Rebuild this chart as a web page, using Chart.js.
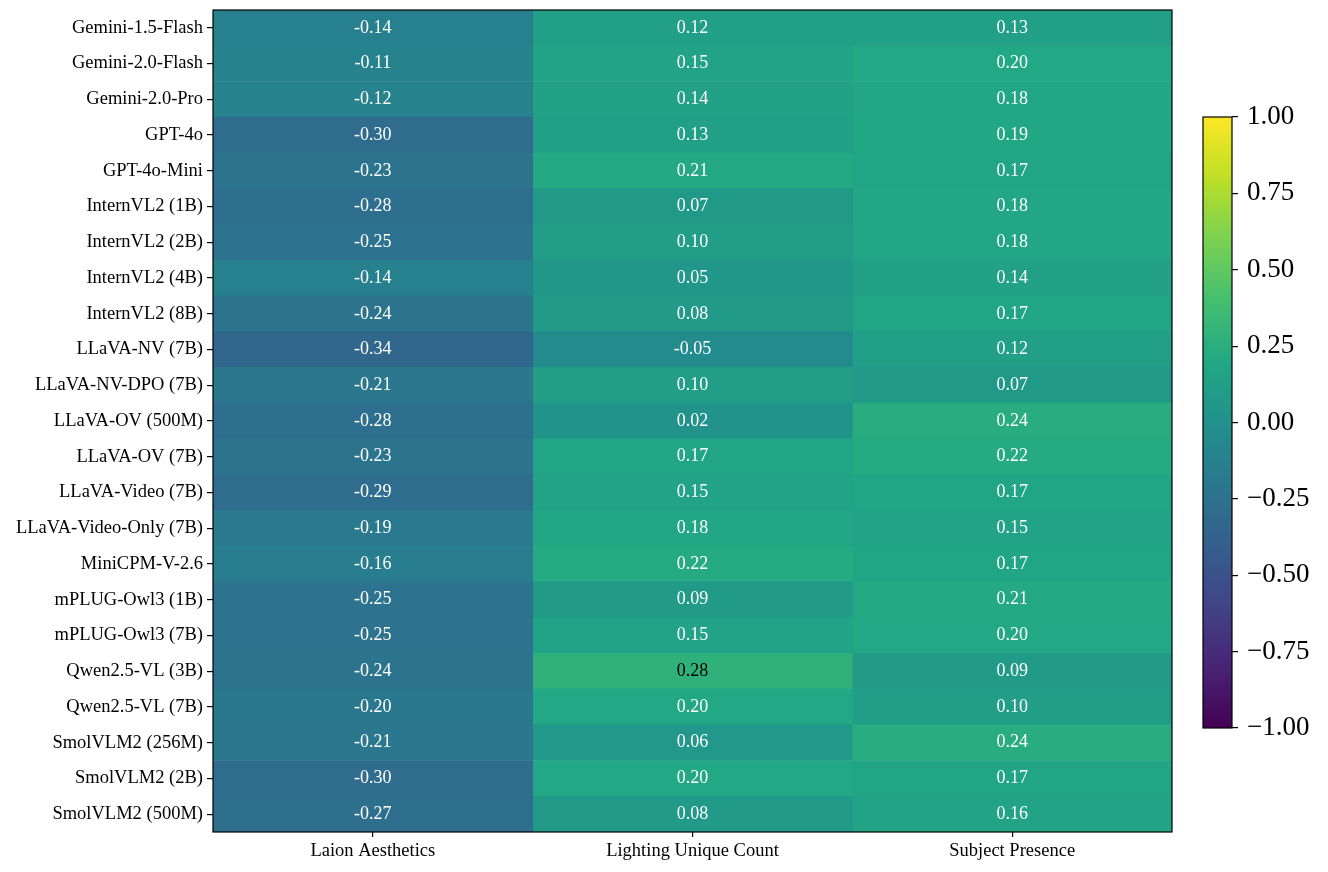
<!DOCTYPE html>
<html>
<head>
<meta charset="utf-8">
<script src="https://cdn.jsdelivr.net/npm/chart.js@4.4.0/dist/chart.umd.min.js"></script>
<style>
  body { margin: 0; background: #fff; width: 1328px; height: 872px; position: relative; overflow: hidden; }
  #heat { position: absolute; left: 0; top: 0; }
  #cbar { position: absolute; left: 1190px; top: 0; }
</style>
</head>
<body>
<canvas id="heat" width="1180" height="872"></canvas>
<canvas id="cbar" width="138" height="872"></canvas>
<script>
// rows / columns of the heatmap
const models = [
  'Gemini-1.5-Flash', 'Gemini-2.0-Flash', 'Gemini-2.0-Pro', 'GPT-4o', 'GPT-4o-Mini',
  'InternVL2 (1B)', 'InternVL2 (2B)', 'InternVL2 (4B)', 'InternVL2 (8B)',
  'LLaVA-NV (7B)', 'LLaVA-NV-DPO (7B)', 'LLaVA-OV (500M)', 'LLaVA-OV (7B)',
  'LLaVA-Video (7B)', 'LLaVA-Video-Only (7B)', 'MiniCPM-V-2.6',
  'mPLUG-Owl3 (1B)', 'mPLUG-Owl3 (7B)', 'Qwen2.5-VL (3B)', 'Qwen2.5-VL (7B)',
  'SmolVLM2 (256M)', 'SmolVLM2 (2B)', 'SmolVLM2 (500M)'
];
const metrics = ['Laion Aesthetics', 'Lighting Unique Count', 'Subject Presence'];

const laionAesthetics = [-0.14, -0.11, -0.12, -0.30, -0.23, -0.28, -0.25, -0.14, -0.24, -0.34, -0.21, -0.28, -0.23, -0.29, -0.19, -0.16, -0.25, -0.25, -0.24, -0.20, -0.21, -0.30, -0.27];
const lightingUniqueCount = [0.12, 0.15, 0.14, 0.13, 0.21, 0.07, 0.10, 0.05, 0.08, -0.05, 0.10, 0.02, 0.17, 0.15, 0.18, 0.22, 0.09, 0.15, 0.28, 0.20, 0.06, 0.20, 0.08];
const subjectPresence = [0.13, 0.20, 0.18, 0.19, 0.17, 0.18, 0.18, 0.14, 0.17, 0.12, 0.07, 0.24, 0.22, 0.17, 0.15, 0.17, 0.21, 0.20, 0.09, 0.10, 0.24, 0.17, 0.16];

const columns = [laionAesthetics, lightingUniqueCount, subjectPresence];
const cbarTicks = [-1, -0.75, -0.5, -0.25, 0, 0.25, 0.5, 0.75, 1];

// viridis colormap
const viridisStops = ['#440154', '#482475', '#414487', '#355f8d', '#2a788e', '#21918c', '#22a884', '#44bf70', '#7ad151', '#bddf26', '#fde725'];
function hexToRgb(h) {
  return [parseInt(h.slice(1, 3), 16), parseInt(h.slice(3, 5), 16), parseInt(h.slice(5, 7), 16)];
}
function viridis(v) {
  let t = Math.max(0, Math.min(1, (v + 1) / 2)) * (viridisStops.length - 1);
  let i = Math.min(Math.floor(t), viridisStops.length - 2);
  let f = t - i;
  let a = hexToRgb(viridisStops[i]), b = hexToRgb(viridisStops[i + 1]);
  let c = a.map((x, k) => Math.round(x + (b[k] - x) * f));
  return 'rgb(' + c.join(',') + ')';
}

const serif = '"Liberation Serif", "DejaVu Serif", serif';

// cell value labels
const cellText = {
  id: 'cellText',
  afterDatasetsDraw(chart) {
    const ctx = chart.ctx;
    ctx.save();
    ctx.font = '18px ' + serif;
    ctx.textAlign = 'center';
    ctx.textBaseline = 'middle';
    chart.data.datasets.forEach((ds, di) => {
      chart.getDatasetMeta(di).data.forEach((bar, i) => {
        const v = columns[di][i];
        ctx.fillStyle = v > 0.25 ? '#000' : '#fff';
        ctx.fillText(v.toFixed(2), (bar.x + bar.base) / 2, bar.y);
      });
    });
    ctx.restore();
  }
};

const frame = {
  id: 'frame',
  afterDraw(chart) {
    const a = chart.chartArea, ctx = chart.ctx;
    ctx.save();
    ctx.strokeStyle = '#000';
    ctx.lineWidth = 1.2;
    ctx.strokeRect(a.left, a.top, a.right - a.left, a.bottom - a.top);
    ctx.restore();
  }
};

new Chart(document.getElementById('heat'), {
  type: 'bar',
  data: {
    labels: models,
    datasets: columns.map((col, c) => ({
      label: metrics[c],
      data: col.map(() => [c, c + 1]),
      backgroundColor: col.map(viridis),
      borderWidth: 0,
      barPercentage: 1,
      categoryPercentage: 1,
      grouped: false
    }))
  },
  options: {
    indexAxis: 'y',
    responsive: false,
    animation: false,
    layout: { padding: { top: 10, right: 8, left: 0, bottom: 0 } },
    plugins: { legend: { display: false }, tooltip: { enabled: false } },
    scales: {
      x: {
        type: 'linear',
        min: 0,
        max: 3,
        afterBuildTicks: s => { s.ticks = metrics.map((m, i) => ({ value: i + 0.5 })); },
        afterFit: s => { s.height = 40; s.paddingLeft = 0; s.paddingRight = 0; },
        ticks: {
          callback: (v, i) => metrics[i],
          color: '#000',
          font: { family: serif, size: 18.5 },
          padding: 3,
          maxRotation: 0
        },
        grid: { drawOnChartArea: false, drawTicks: true, tickLength: 5, color: '#000', lineWidth: 1.2 },
        border: { display: false }
      },
      y: {
        afterFit: s => { s.width = 213; s.paddingTop = 0; s.paddingBottom = 0; },
        ticks: {
          color: '#000',
          font: { family: serif, size: 18.5 },
          padding: 4
        },
        grid: { offset: false, drawOnChartArea: false, drawTicks: true, tickLength: 6, color: '#000', lineWidth: 1.2 },
        border: { display: false }
      }
    }
  },
  plugins: [cellText, frame]
});

// colour bar
new Chart(document.getElementById('cbar'), {
  type: 'bar',
  data: {
    labels: [''],
    datasets: [{
      data: [[-1, 1]],
      borderWidth: 0,
      barPercentage: 1,
      categoryPercentage: 1,
      backgroundColor: ctx => {
        const a = ctx.chart.chartArea;
        if (!a) return '#21918c';
        const g = ctx.chart.ctx.createLinearGradient(0, a.bottom, 0, a.top);
        viridisStops.forEach((s, i) => g.addColorStop(i / (viridisStops.length - 1), s));
        return g;
      }
    }]
  },
  options: {
    responsive: false,
    animation: false,
    layout: { padding: { top: 117, bottom: 144, left: 13, right: 0 } },
    plugins: { legend: { display: false }, tooltip: { enabled: false } },
    scales: {
      x: { display: false },
      y: {
        position: 'right',
        min: -1,
        max: 1,
        afterFit: s => { s.width = 96; s.paddingTop = 0; s.paddingBottom = 0; },
        afterBuildTicks: s => { s.ticks = cbarTicks.map(v => ({ value: v })); },
        ticks: {
          callback: v => v.toFixed(2).replace('-', '\u2212'),
          color: '#000',
          font: { family: serif, size: 27 },
          padding: 9
        },
        grid: { drawOnChartArea: false, drawTicks: true, tickLength: 6, color: '#000', lineWidth: 1.2 },
        border: { display: false }
      }
    }
  },
  plugins: [frame]
});
</script>
</body>
</html>
